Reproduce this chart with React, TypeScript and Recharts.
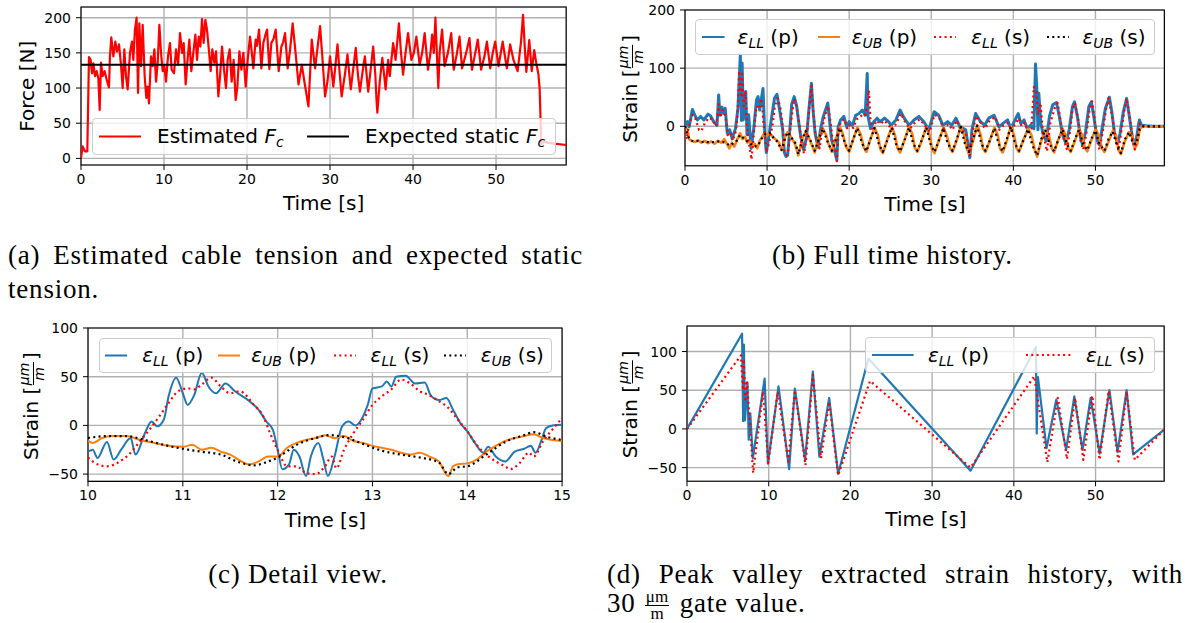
import React from "react";
import { LineChart, Line, XAxis, YAxis, CartesianGrid, ReferenceArea } from "recharts";

// (a) estimated cable force
const aTime = [
  0, 0.2, 0.48, 0.76, 0.96, 1.16, 1.33, 1.49, 1.69, 1.89,
  2.09, 2.25, 2.41, 2.61, 2.85, 3.09, 3.37, 3.49, 3.65, 3.9,
  4.14, 4.34, 4.58, 4.82, 5.02, 5.22, 5.42, 5.62, 5.9, 6.14,
  6.3, 6.5, 6.7, 6.87, 7.03, 7.23, 7.43, 7.67, 7.87, 8.03,
  8.19, 8.43, 8.63, 8.84, 9.04, 9.24, 9.44, 9.64, 9.84, 10.04,
  10.24, 10.48, 10.72, 10.92, 11.2, 11.45, 11.69, 11.93, 12.17, 12.37,
  12.61, 12.81, 13.05, 13.29, 13.53, 13.78, 13.98, 14.18, 14.38, 14.58,
  14.78, 14.98, 15.18, 15.42, 15.62, 15.82, 16.06, 16.27, 16.55, 16.75,
  16.99, 17.23, 17.47, 17.67, 17.91, 18.15, 18.39, 18.63, 18.84, 19.08,
  19.32, 19.56, 19.84, 20.08, 20.36, 20.56, 20.76, 21.04, 21.2, 21.45,
  21.73, 21.97, 22.2, 22.41, 22.69, 22.93, 23.2, 23.45, 23.82, 24.14,
  24.35, 24.58, 24.9, 25.18, 25.5, 25.85, 26.2, 26.6, 26.9, 27.4,
  27.8, 28.2, 28.8, 29.1, 29.4, 29.7, 30.0, 30.4, 30.9, 31.1,
  31.4, 31.8, 32.1, 32.5, 33.1, 33.35, 33.6, 34.0, 34.2, 34.6,
  35.2, 35.45, 35.6, 35.7, 36.0, 36.3, 36.7, 37.0, 37.2, 37.6,
  37.9, 38.3, 38.55, 38.8, 39.1, 39.4, 39.8, 40.1, 40.4, 40.8,
  41.1, 41.4, 41.8, 42.1, 42.3, 42.5, 42.7, 42.9, 43.05, 43.2,
  43.5, 43.8, 44.2, 44.6, 44.9, 45.3, 45.6, 45.9, 46.4, 46.8,
  47.1, 47.5, 47.8, 48.2, 48.6, 48.9, 49.3, 49.6, 49.9, 50.3,
  50.8, 51.3, 51.7, 52.1, 52.6, 53.0, 53.25, 53.5, 53.65, 54.0,
  54.3, 54.6, 54.85, 55.1, 55.25, 55.45, 55.7, 56.3, 57.0, 58.45,
];
const aForce = [
  0, 17, 10, 10, 144, 140, 121, 135, 117, 124,
  114, 69, 136, 117, 124, 112, 101, 145, 172, 145,
  166, 152, 162, 133, 100, 155, 117, 98, 150, 166,
  140, 183, 200, 93, 192, 131, 190, 117, 86, 102,
  78, 145, 131, 155, 109, 136, 190, 150, 124, 131,
  109, 145, 164, 126, 121, 155, 133, 178, 150, 164,
  105, 136, 169, 124, 150, 176, 140, 173, 159, 198,
  164, 197, 183, 152, 124, 155, 136, 152, 88, 117,
  159, 126, 100, 140, 155, 109, 140, 83, 102, 152,
  126, 150, 102, 140, 173, 152, 128, 169, 160, 183,
  128, 164, 175, 183, 127, 164, 170, 183, 124, 159,
  165, 178, 128, 154, 192, 150, 105, 133, 110, 74,
  169, 128, 188, 140, 88, 110, 145, 102, 162, 130,
  88, 120, 148, 98, 157, 120, 95, 130, 145, 95,
  159, 120, 83, 65, 110, 143, 98, 140, 117, 164,
  140, 192, 150, 119, 150, 178, 140, 150, 173, 133,
  150, 178, 126, 150, 176, 150, 200, 140, 100, 150,
  183, 131, 150, 178, 126, 150, 173, 128, 150, 171,
  126, 150, 169, 126, 145, 166, 128, 150, 166, 131,
  166, 128, 162, 140, 124, 165, 204, 150, 123, 168,
  124, 154, 135, 120, 100, 20, 24, 22, 21, 19,
];
const staticTime = [0, 58.45];
const staticForce = [133, 133];

// (b) full strain history
const bLLpTime = [
  0, 0.3, 0.5, 0.9, 1.2, 1.5, 1.9, 2.3, 2.8, 3.1,
  3.5, 3.9, 4.1, 4.25, 4.5, 4.7, 4.9, 5.15, 5.45, 5.75,
  6.15, 6.45, 6.74, 6.87, 6.96, 7.1, 7.4, 7.55, 7.75, 8.05,
  8.4, 8.7, 8.9, 9.1, 9.5, 9.7, 9.9, 10.2, 10.6, 10.9,
  11.2, 11.5, 11.9, 12.1, 12.3, 12.5, 12.8, 13.0, 13.3, 13.6,
  13.9, 14.1, 14.45, 14.8, 15.1, 15.4, 15.6, 15.85, 16.2, 16.5,
  16.85, 17.4, 17.6, 17.85, 18.15, 18.5, 18.65, 18.95, 19.35, 19.7,
  20.0, 20.4, 20.8, 21.2, 21.6, 21.95, 22.2, 22.3, 22.6, 23.0,
  23.4, 23.8, 24.3, 24.8, 25.1, 25.7, 26.2, 26.7, 27.3, 27.9,
  28.5, 29.1, 29.7, 30.35, 30.9, 31.4, 32.0, 32.5, 33.0, 33.5,
  34.2, 34.7, 34.95, 35.4, 36.0, 36.5, 37.0, 37.65, 38.25, 38.75,
  39.3, 39.7, 40.1, 40.6, 40.9, 41.3, 41.7, 42.1, 42.5, 42.7,
  42.85, 43.0, 43.1, 43.35, 43.65, 44.0, 44.4, 44.8, 45.25, 45.6,
  46.0, 46.4, 46.8, 47.2, 47.45, 47.8, 48.2, 48.45, 48.8, 49.2,
  49.5, 49.8, 50.25, 50.5, 50.8, 51.2, 51.7, 52.0, 52.3, 52.7,
  53.0, 53.4, 53.8, 54.1, 54.4, 54.7, 55.0, 55.35, 55.6, 56.2,
  57.0, 58.4,
];
const bLLp = [
  0, 8, -1, 29, 19, 11, 17, 11, 21, 18,
  8, 2, 54, 19, 33, 22, 31, -12, -6, -21,
  -4, 31, 123, 10, 109, 11, 60, -14, 20, -38,
  -1, 45, 51, 28, 65, -6, -45, -18, 20, 48,
  55, 30, -5, -45, -52, -50, 0, 38, 51, 35,
  2, -18, -40, -20, 30, 74, 28, -12, -36, -6,
  17, 40, 11, -23, -38, -58, -1, 11, 17, -1,
  8, 2, 19, 22, 28, 19, 91, 17, -4, 8,
  14, 8, 14, 8, 2, 11, 28, 14, 2, 11,
  17, 8, -6, 25, 19, 2, 8, 2, 14, -1,
  -6, -54, -6, 22, 8, 2, 14, 19, -1, 5,
  11, -4, 8, 22, 5, 11, -4, 2, -4, 107,
  68, -6, 57, 5, -15, -25, 17, 37, 41, 17,
  -15, -29, -6, 34, 42, 17, -21, -32, -9, 34,
  42, 17, -25, -32, -5, 30, 50, 25, -10, -30,
  -12, 25, 48, 20, -10, -33, -20, 11, 2, 1,
  0, 0,
];
const bUBpTime = [
  0, 0.3, 0.5, 0.8, 1.2, 1.6, 2.0, 2.4, 2.8, 3.2,
  3.6, 4.0, 4.4, 4.8, 5.1, 5.4, 5.7, 6.0, 6.3, 6.7,
  7.0, 7.3, 7.6, 7.9, 8.2, 8.5, 8.8, 9.1, 9.4, 9.7,
  10.0, 10.3, 10.7, 11.0, 11.4, 11.75, 12.0, 12.2, 12.5, 12.8,
  13.1, 13.4, 13.8, 14.0, 14.3, 14.7, 15.0, 15.4, 15.8, 16.2,
  16.8, 17.2, 17.5, 17.9, 18.3, 18.9, 19.2, 19.6, 20.0, 20.4,
  21.0, 21.4, 21.8, 22.1, 22.5, 23.1, 23.5, 23.8, 24.1, 24.6,
  25.2, 25.6, 25.9, 26.2, 26.7, 27.3, 27.7, 28.0, 28.3, 28.8,
  29.4, 29.8, 30.1, 30.4, 30.9, 31.5, 31.9, 32.3, 32.6, 33.1,
  33.6, 34.0, 34.3, 34.6, 35.1, 35.6, 36.0, 36.3, 36.6, 37.1,
  37.7, 38.1, 38.4, 38.7, 39.2, 39.7, 40.1, 40.4, 40.7, 41.2,
  41.8, 42.2, 42.6, 42.9, 43.4, 43.9, 44.3, 44.7, 44.96, 45.4,
  46.0, 46.4, 46.7, 47.0, 47.5, 48.0, 48.4, 48.7, 49.0, 49.5,
  50.0, 50.4, 50.8, 51.1, 51.6, 52.1, 52.5, 52.8, 53.1, 53.6,
  54.1, 54.5, 54.8, 55.1, 55.4, 55.7, 58.4,
];
const bUBp = [
  0, -5, -22, -25, -27, -24, -28, -25, -29, -26,
  -30, -25, -28, -22, -30, -38, -28, -35, -25, -12,
  -22, -18, -28, -25, -35, -30, -38, -25, -18, -12,
  -16, -11, -18, -22, -27, -40, -32, -18, -10, -16,
  -23, -30, -50, -39, -21, -9, -16, -30, -45, -25,
  -4, -15, -31, -44, -24, -2, -12, -35, -44, -26,
  -2, -14, -37, -44, -25, -3, -15, -39, -46, -24,
  -1, -16, -38, -45, -25, 0, -14, -37, -44, -26,
  -1, -15, -39, -46, -25, -2, -16, -38, -44, -24,
  0, -15, -37, -47, -25, 2, -14, -38, -44, -26,
  -2, -15, -39, -45, -25, 0, -16, -38, -44, -24,
  -4, -15, -40, -52, -25, -6, -14, -38, -45, -26,
  -4, -16, -38, -44, -25, -5, -15, -37, -43, -24,
  -6, -15, -38, -44, -26, -8, -15, -40, -48, -25,
  -10, -18, -38, -30, -5, 0, 0,
];
const bLLsTime = [
  0, 0.2, 0.4, 0.9, 1.3, 1.7, 2.0, 2.4, 2.9, 3.3,
  3.8, 4.1, 4.3, 4.6, 4.9, 5.2, 5.5, 5.8, 6.2, 6.4,
  6.6, 6.85, 6.95, 7.15, 7.35, 7.6, 7.8, 8.1, 8.4, 8.7,
  9.0, 9.3, 9.6, 9.95, 10.3, 10.7, 10.95, 11.3, 11.6, 11.9,
  12.1, 12.4, 12.6, 12.9, 13.3, 13.6, 13.9, 14.2, 14.5, 14.8,
  15.1, 15.4, 15.6, 15.9, 16.4, 16.7, 17.0, 17.4, 17.7, 18.0,
  18.3, 18.5, 18.7, 19.0, 19.4, 19.8, 20.1, 20.5, 20.9, 21.3,
  21.7, 22.0, 22.2, 22.4, 22.6, 22.9, 23.3, 23.8, 24.3, 24.8,
  25.2, 25.8, 26.3, 26.8, 27.4, 28.0, 28.6, 29.2, 29.8, 30.4,
  31.0, 31.5, 32.1, 32.6, 33.1, 33.6, 34.2, 34.7, 35.0, 35.5,
  36.1, 36.6, 37.1, 37.8, 38.3, 38.8, 39.4, 39.8, 40.2, 40.7,
  41.0, 41.4, 41.8, 42.2, 42.5, 42.8, 43.0, 43.3, 43.6, 44.1,
  44.5, 45.0, 45.4, 45.7, 46.1, 46.5, 46.9, 47.2, 47.5, 47.9,
  48.2, 48.5, 48.9, 49.3, 49.6, 49.9, 50.2, 50.5, 50.9, 51.3,
  51.6, 52.0, 52.4, 52.8, 53.1, 53.5, 53.8, 54.2, 54.5, 54.8,
  55.1, 55.4, 55.7, 56.5, 58.4,
];
const bLLs = [
  0, -22, -5, 20, 12, -6, -8, 5, 15, 12,
  0, 38, 15, 28, 20, -15, -10, -25, -8, 20,
  95, 50, 90, 35, 60, -10, -30, -57, -10, 35,
  30, 48, 0, -44, -25, 5, 35, 48, 33, 0,
  -42, -50, -40, 6, 47, 33, 6, -30, -47, -20,
  25, 70, 30, -15, -38, -5, 15, 35, 10, -25,
  -40, -60, -5, 8, 12, -5, 3, -3, 12, 15,
  22, 20, 38, 62, 10, -8, 10, 4, 10, 2,
  -6, 6, 22, 8, -4, 6, 12, 2, -10, 20,
  14, -4, 4, -6, 10, -6, -10, -50, -10, 18,
  4, -4, 10, 16, -6, 2, 6, -8, 4, 14,
  0, 6, -10, -4, 68, 60, 20, 40, -10, -43,
  5, 30, 40, 15, -20, -39, -10, 28, 40, 12,
  -25, -40, -12, 30, 43, 12, -25, -40, -8, 30,
  49, 20, -15, -42, -15, 25, 48, 15, -20, -40,
  -20, 5, 0, 0, 0,
];
const bUBsTime = [
  0, 0.4, 0.7, 1.1, 1.5, 2.0, 2.5, 3.0, 3.5, 4.0,
  4.5, 5.0, 5.4, 5.8, 6.2, 6.7, 7.1, 7.5, 8.0, 8.4,
  8.9, 9.3, 9.8, 10.3, 10.8, 11.3, 11.75, 12.2, 12.5, 13.0,
  13.5, 13.8, 14.3, 14.7, 15.3, 15.8, 16.3, 16.8, 17.4, 17.9,
  18.4, 18.9, 19.5, 20.0, 20.5, 21.0, 21.6, 22.1, 22.6, 23.1,
  23.6, 24.1, 24.7, 25.2, 25.7, 26.2, 26.8, 27.3, 27.8, 28.3,
  28.9, 29.4, 29.9, 30.4, 31.0, 31.5, 32.0, 32.6, 33.1, 33.6,
  34.1, 34.6, 35.1, 35.6, 36.1, 36.6, 37.2, 37.7, 38.2, 38.7,
  39.2, 39.7, 40.2, 40.7, 41.3, 41.8, 42.3, 42.9, 43.4, 43.9,
  44.4, 44.96, 45.5, 46.0, 46.5, 47.0, 47.5, 48.0, 48.5, 49.0,
  49.5, 50.0, 50.5, 51.1, 51.6, 52.1, 52.6, 53.1, 53.6, 54.1,
  54.6, 55.0, 55.4, 55.8, 58.4,
];
const bUBs = [
  0, -18, -24, -26, -25, -27, -26, -28, -27, -26,
  -27, -28, -33, -30, -27, -15, -20, -25, -30, -35,
  -33, -22, -13, -11, -20, -27, -41, -20, -10, -20,
  -30, -48, -22, -8, -25, -42, -22, -4, -28, -42,
  -22, -3, -30, -42, -22, -3, -30, -43, -22, -3,
  -30, -44, -22, -2, -30, -43, -22, -2, -30, -42,
  -22, -2, -30, -44, -22, -3, -30, -42, -22, -1,
  -30, -44, -22, 1, -30, -42, -22, -3, -30, -43,
  -22, -1, -30, -42, -22, -5, -32, -50, -22, -6,
  -30, -43, -22, -5, -30, -42, -22, -6, -30, -41,
  -22, -7, -30, -42, -22, -9, -32, -46, -22, -10,
  -30, -30, -5, 0, 0,
];

// (c) detail view 10..15 s
const cLLpTime = [
  10.0, 10.05, 10.1, 10.2, 10.27, 10.35, 10.45, 10.5, 10.6, 10.67,
  10.73, 10.8, 10.85, 10.93, 11.0, 11.05, 11.12, 11.2, 11.27, 11.35,
  11.45, 11.55, 11.7, 11.8, 11.88, 11.95, 12.0, 12.05, 12.12, 12.17,
  12.23, 12.3, 12.35, 12.43, 12.48, 12.53, 12.6, 12.68, 12.75, 12.82,
  12.9, 12.95, 13.0, 13.1, 13.15, 13.2, 13.25, 13.35, 13.45, 13.55,
  13.62, 13.7, 13.78, 13.85, 13.93, 14.0, 14.08, 14.17, 14.22, 14.3,
  14.4, 14.5, 14.6, 14.67, 14.72, 14.78, 14.83, 14.9, 15.0,
];
const cLLp = [
  -27, -25, -33.5, -17, -35, -25, -13, -30, -8, 4,
  -1, 6, 30, 49, 33, 21, 31, 54, 40, 33,
  43, 35, 25, 16, 4, -4.5, -25, -45, -40, -25,
  -32, -52, -32, -18, -34, -52, -32, -1, 4, 0,
  9, 21, 38, 40, 45, 40, 50, 51, 43, 44,
  30, 26, 28, 16, 2, -6, -18, -28, -22, -32,
  -37, -27, -24, -21, -28, -16, -3, 0, 0.7,
];
const cUBpTime = [
  10.0, 10.05, 10.15, 10.25, 10.4, 10.55, 10.7, 10.85, 11.0, 11.1,
  11.2, 11.3, 11.4, 11.5, 11.6, 11.7, 11.8, 11.9, 12.0, 12.1,
  12.2, 12.3, 12.4, 12.5, 12.6, 12.7, 12.8, 12.9, 13.0, 13.1,
  13.2, 13.3, 13.4, 13.5, 13.6, 13.7, 13.8, 13.85, 13.9, 14.0,
  14.1, 14.2, 14.3, 14.4, 14.5, 14.6, 14.7, 14.8, 14.9, 15.0,
];
const cUBp = [
  -16, -18, -13, -11, -11, -15, -18, -21, -22, -20,
  -25, -23, -27, -30, -36, -40, -37, -32, -32, -23,
  -18, -15, -13, -10, -13, -11, -16, -18, -21, -23,
  -25, -28, -30, -28, -32, -37, -52, -42, -40, -39,
  -35, -27, -21, -16, -13, -11, -9, -13, -15, -16,
];
const cLLsTime = [
  10.0, 10.1, 10.2, 10.3, 10.45, 10.55, 10.65, 10.75, 10.85, 10.95,
  11.05, 11.12, 11.2, 11.3, 11.4, 11.5, 11.6, 11.75, 11.85, 11.92,
  12.0, 12.1, 12.2, 12.3, 12.4, 12.5, 12.57, 12.62, 12.7, 12.8,
  12.9, 13.0, 13.1, 13.2, 13.3, 13.4, 13.5, 13.6, 13.7, 13.8,
  13.9, 14.0, 14.1, 14.2, 14.3, 14.4, 14.45, 14.55, 14.65, 14.7,
  14.8, 14.9, 15.0,
];
const cLLs = [
  -33, -40, -42, -39, -28, -16, -4, 9, 23, 35,
  38, 37, 42, 49, 40, 33, 35, 21, 9, -8,
  -25, -42, -42, -49, -50, -42, -32, -44, -25, -8,
  6, 21, 30, 37, 47, 43, 35, 31, 25, 18,
  6, -6, -20, -30, -37, -42, -45, -39, -28, -32,
  -16, -4, 7.5,
];
const cUBsTime = [
  10.0, 10.2, 10.4, 10.6, 10.8, 11.0, 11.2, 11.4, 11.6, 11.75,
  11.9, 12.0, 12.2, 12.4, 12.55, 12.7, 12.9, 13.1, 13.3, 13.5,
  13.7, 13.8, 13.9, 14.0, 14.2, 14.4, 14.6, 14.7, 14.85, 15.0,
];
const cUBs = [
  -13, -11, -11, -15, -20, -24, -27, -30, -38, -41,
  -37, -33, -20, -13, -10, -12, -19, -26, -30, -33,
  -38, -50, -43, -42, -30, -17, -10, -7, -12, -15,
];

// (d) peak valley extraction, 30 um/m gate
const dLLpTime = [
  0, 6.74, 6.87, 6.96, 7.1, 7.4, 7.55, 7.75, 8.05, 9.5,
  9.9, 11.2, 12.5, 13.2, 14.45, 15.4, 16.2, 17.4, 18.5, 22.2,
  34.7, 42.7, 42.8, 42.95, 44.0, 45.2, 46.4, 47.4, 48.4, 49.4,
  50.5, 51.7, 52.7, 53.8, 54.6, 58.4,
];
const dLLp = [
  0, 123, 10, 109, 11, 60, -14, 20, -38, 65,
  -45, 55, -52, 52, -40, 74, -36, 40, -58, 91,
  -54, 106, -6, 67, -25, 38, -27, 42, -27, 40,
  -32, 50, -30, 50, -33, -1,
];
const dLLsTime = [
  0, 6.6, 6.85, 6.95, 7.15, 7.35, 8.1, 9.3, 9.95, 11.1,
  12.4, 13.2, 14.5, 15.4, 16.4, 17.4, 18.5, 22.4, 34.7, 42.5,
  44.1, 45.4, 46.5, 47.5, 48.5, 49.6, 50.5, 51.6, 52.8, 53.8,
  54.8, 58.4,
];
const dLLs = [
  0, 95, 50, 90, 35, 60, -57, 48, -44, 48,
  -42, 50, -47, 70, -38, 35, -60, 62, -50, 68,
  -43, 40, -39, 40, -40, 43, -40, 49, -42, 48,
  -40, -1,
];

const forceTicks = [0, 50, 100, 150, 200];
const timeTicks = [0, 10, 20, 30, 40, 50];
const detailTicks = [10, 11, 12, 13, 14, 15];
const strainTicksFull = [0, 100, 200];
const strainTicks = [-50, 0, 50, 100];

const BLUE = "#1f77b4";
const ORANGE = "#ff7f0e";
const RED = "#ff0000";
const BLACK = "#000000";
const SANS = "'DejaVu Sans', sans-serif";
const SERIF = "'Liberation Serif', serif";
const DOTS = "2 3.3";

const PAD_L = 70, PAD_T = 12, PAD_R = 14, PAD_B = 60;

type Box = { l: number; t: number; r: number; b: number };
type Row = { t: number; v: number };
type Series = { data: Row[]; color: string; dotted?: boolean; width?: number; smooth?: boolean };

const rows = (t: number[], v: number[]): Row[] => t.map((x, i) => ({ t: x, v: v[i] }));
const fmt = (v: number) => (v < 0 ? "\u2212" + Math.abs(v) : String(v));

// plot areas in page pixels
const A: Box = { l: 81, t: 7.3, r: 566.2, b: 165.3 };
const B: Box = { l: 685.2, t: 10, r: 1164.6, b: 165.7 };
const C: Box = { l: 88.4, t: 328.3, r: 562.5, b: 481.7 };
const D: Box = { l: 687.4, t: 325.7, r: 1164.6, b: 481 };

function Panel({ box, xDomain, yDomain, xTicks, yTicks, series }: {
  box: Box; xDomain: [number, number]; yDomain: [number, number];
  xTicks: number[]; yTicks: number[]; series: Series[];
}) {
  const width = box.r - box.l + PAD_L + PAD_R;
  const height = box.b - box.t + PAD_T + PAD_B;
  const tick = { fontFamily: SANS, fontSize: 14, fill: "#000" };
  return (
    <div style={{ position: "absolute", left: box.l - PAD_L, top: box.t - PAD_T }}>
      <LineChart width={width} height={height} margin={{ top: PAD_T, right: PAD_R, bottom: 0, left: 0 }}>
        <CartesianGrid stroke="#b0b0b0" strokeWidth={1.4} />
        <XAxis type="number" dataKey="t" domain={xDomain} ticks={xTicks} allowDataOverflow interval={0}
          height={PAD_B} tick={tick} tickSize={5} tickMargin={4} tickLine={{ stroke: "#000" }}
          axisLine={false} tickFormatter={fmt} />
        <YAxis type="number" domain={yDomain} ticks={yTicks} allowDataOverflow interval={0}
          width={PAD_L} tick={tick} tickSize={5} tickMargin={5} tickLine={{ stroke: "#000" }}
          axisLine={false} tickFormatter={fmt} />
        {series.map((s, i) => (
          <Line key={i} data={s.data} dataKey="v" type={s.smooth ? "monotone" : "linear"}
            stroke={s.color} strokeWidth={s.width ?? 2} strokeDasharray={s.dotted ? DOTS : undefined}
            strokeLinejoin="round" dot={false} activeDot={false} isAnimationActive={false} />
        ))}
        <ReferenceArea x1={xDomain[0]} x2={xDomain[1]} y1={yDomain[0]} y2={yDomain[1]}
          fill="none" stroke="#000" strokeWidth={1.1} ifOverflow="visible" />
      </LineChart>
    </div>
  );
}

type LegendItem = { hx: number; hw: number; tx: number; color: string; dotted?: boolean; label: React.ReactNode };

function LegendBox({ box, items }: { box: Box; items: LegendItem[] }) {
  const h = box.b - box.t - 2;
  return (
    <div style={{
      position: "absolute", left: box.l, top: box.t, width: box.r - box.l, height: box.b - box.t,
      boxSizing: "border-box", border: "1px solid #cccccc", borderRadius: 4,
      background: "rgba(255,255,255,0.8)",
    }}>
      {items.map((it, i) => (
        <React.Fragment key={i}>
          <svg style={{ position: "absolute", left: it.hx - box.l - 1, top: 0 }} width={it.hw} height={h}>
            <line x1={0} x2={it.hw} y1={h / 2} y2={h / 2} stroke={it.color} strokeWidth={2}
              strokeDasharray={it.dotted ? DOTS : undefined} />
          </svg>
          <div style={{
            position: "absolute", left: it.tx - box.l - 1, top: 0, height: h, lineHeight: `${h}px`,
            fontFamily: SANS, fontSize: 20, whiteSpace: "nowrap", color: "#000",
          }}>{it.label}</div>
        </React.Fragment>
      ))}
    </div>
  );
}

const subStyle: React.CSSProperties = { fontSize: "70%", fontStyle: "italic", verticalAlign: "-0.25em", lineHeight: 0 };
const eps = (sub: string, kind: string) => (
  <><i>ε</i><span style={subStyle}>{sub}</span> ({kind})</>
);
const Fc = <><i>F</i><span style={subStyle}>c</span></>;

function StrainLabel({ cx, cy }: { cx: number; cy: number }) {
  const s = cx - 55;
  return (
    <g transform={`rotate(-90 ${cx} ${cy})`} fontFamily={SANS} fill="#000">
      <text x={s} y={cy + 7} fontSize={20}>Strain [</text>
      <text x={s + 86} y={cy - 2} fontSize={14} fontStyle="italic" textAnchor="middle">μm</text>
      <line x1={s + 75} x2={s + 98} y1={cy + 2.5} y2={cy + 2.5} stroke="#000" strokeWidth={1} />
      <text x={s + 86} y={cy + 13} fontSize={14} fontStyle="italic" textAnchor="middle">m</text>
      <text x={s + 100} y={cy + 7} fontSize={20}>]</text>
    </g>
  );
}

const captionStyle: React.CSSProperties = {
  position: "absolute", fontFamily: SERIF, fontSize: 27, lineHeight: "34px",
  letterSpacing: 0.8, color: "#000", whiteSpace: "nowrap",
};
const justified: React.CSSProperties = { ...captionStyle, textAlign: "justify", textAlignLast: "justify", whiteSpace: "normal" };

export default function App() {
  const timeLabel = (box: Box) => (
    <text x={(box.l + box.r) / 2} y={box.b + 38} textAnchor="middle" dominantBaseline="central"
      fontFamily={SANS} fontSize={20}>Time [s]</text>
  );
  return (
    <div style={{ position: "fixed", left: 0, top: 0, width: 1191, height: 623, background: "#fff", overflow: "hidden" }}>
      <Panel box={A} xDomain={[0, 58.45]} yDomain={[-9.4, 215.2]} xTicks={timeTicks} yTicks={forceTicks}
        series={[
          { data: rows(aTime, aForce), color: RED, width: 2.2 },
          { data: rows(staticTime, staticForce), color: BLACK, width: 2 },
        ]} />
      <Panel box={B} xDomain={[0, 58.4]} yDomain={[-67.7, 200]} xTicks={timeTicks} yTicks={strainTicksFull}
        series={[
          { data: rows(bLLpTime, bLLp), color: BLUE, width: 3 },
          { data: rows(bUBpTime, bUBp), color: ORANGE, width: 2.6 },
          { data: rows(bLLsTime, bLLs), color: RED, dotted: true, width: 2.2 },
          { data: rows(bUBsTime, bUBs), color: BLACK, dotted: true, width: 2.2 },
        ]} />
      <Panel box={C} xDomain={[10, 15]} yDomain={[-57.5, 100]} xTicks={detailTicks} yTicks={strainTicks}
        series={[
          { data: rows(cLLpTime, cLLp), color: BLUE, smooth: true },
          { data: rows(cUBpTime, cUBp), color: ORANGE, smooth: true },
          { data: rows(cLLsTime, cLLs), color: RED, dotted: true, smooth: true, width: 2.2 },
          { data: rows(cUBsTime, cUBs), color: BLACK, dotted: true, smooth: true, width: 2.2 },
        ]} />
      <Panel box={D} xDomain={[0, 58.4]} yDomain={[-67.7, 133]} xTicks={timeTicks} yTicks={strainTicks}
        series={[
          { data: rows(dLLpTime, dLLp), color: BLUE, width: 2.2 },
          { data: rows(dLLsTime, dLLs), color: RED, dotted: true, width: 2.2 },
        ]} />

      <svg width={1191} height={623} style={{ position: "absolute", left: 0, top: 0, pointerEvents: "none" }}>
        {timeLabel(A)}
        {timeLabel(B)}
        {timeLabel(C)}
        {timeLabel(D)}
        <text x={27} y={(A.t + A.b) / 2} transform={`rotate(-90 27 ${(A.t + A.b) / 2})`} textAnchor="middle"
          dominantBaseline="central" fontFamily={SANS} fontSize={20}>Force [N]</text>
        <StrainLabel cx={630} cy={(B.t + B.b) / 2} />
        <StrainLabel cx={31} cy={(C.t + C.b) / 2} />
        <StrainLabel cx={630} cy={(D.t + D.b) / 2} />
      </svg>

      <LegendBox box={{ l: 92, t: 118, r: 556, b: 155 }} items={[
        { hx: 98.6, hw: 42.4, tx: 157, color: RED, label: <>Estimated {Fc}</> },
        { hx: 306.6, hw: 42.4, tx: 365, color: BLACK, label: <>Expected static {Fc}</> },
      ]} />
      <LegendBox box={{ l: 695, t: 19, r: 1155, b: 55 }} items={[
        { hx: 702, hw: 22.6, tx: 737.6, color: BLUE, label: eps("LL", "p") },
        { hx: 817.5, hw: 22.6, tx: 851.8, color: ORANGE, label: eps("UB", "p") },
        { hx: 933.6, hw: 22.6, tx: 971.3, color: RED, dotted: true, label: eps("LL", "s") },
        { hx: 1046.7, hw: 22.6, tx: 1082.5, color: BLACK, dotted: true, label: eps("UB", "s") },
      ]} />
      <LegendBox box={{ l: 98.6, t: 338.3, r: 552.3, b: 373.3 }} items={[
        { hx: 105.3, hw: 22, tx: 142.2, color: BLUE, label: eps("LL", "p") },
        { hx: 218.2, hw: 22, tx: 251.3, color: ORANGE, label: eps("UB", "p") },
        { hx: 334, hw: 22, tx: 370.6, color: RED, dotted: true, label: eps("LL", "s") },
        { hx: 444, hw: 22, tx: 480.8, color: BLACK, dotted: true, label: eps("UB", "s") },
      ]} />
      <LegendBox box={{ l: 864.6, t: 336.7, r: 1154.8, b: 372.7 }} items={[
        { hx: 872, hw: 41.6, tx: 928, color: BLUE, label: eps("LL", "p") },
        { hx: 1026, hw: 45, tx: 1086, color: RED, dotted: true, label: eps("LL", "s") },
      ]} />

      <div style={{ ...justified, left: 8, top: 238, width: 575 }}>(a) Estimated cable tension and expected static</div>
      <div style={{ ...captionStyle, left: 8, top: 272 }}>tension.</div>
      <div style={{ ...captionStyle, left: 592, top: 238, width: 601, textAlign: "center" }}>(b) Full time history.</div>
      <div style={{ ...captionStyle, left: 8, top: 557, width: 580, textAlign: "center" }}>(c) Detail view.</div>
      <div style={{ ...justified, left: 607, top: 557, width: 576 }}>(d) Peak valley extracted strain history, with</div>
      <div style={{ ...captionStyle, left: 607, top: 588, lineHeight: "30px" }}>
        30{"\u2009"}
        <span style={{ display: "inline-block", verticalAlign: "middle", textAlign: "center", fontSize: 17, lineHeight: "14px", margin: "0 3px", letterSpacing: 0 }}>
          <span style={{ display: "block", borderBottom: "1px solid #000", padding: "0 1px 1px" }}>μm</span>
          <span style={{ display: "block", paddingTop: 1 }}>m</span>
        </span>
        {" "}gate value.
      </div>
    </div>
  );
}
